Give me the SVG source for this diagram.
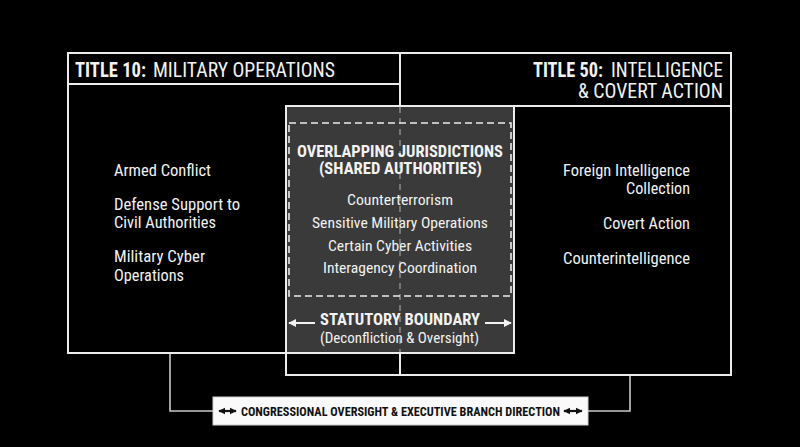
<svg xmlns="http://www.w3.org/2000/svg" width="800" height="447" viewBox="0 0 800 447">
<defs>
<style>
.frame{fill:none;stroke:#ececec;stroke-width:2}
.conn{fill:none;stroke:#c8c8c8;stroke-width:1.6}
.t{font-family:"Roboto Condensed","Liberation Sans Narrow","Liberation Sans",Arial,sans-serif;fill:#f2f2f2}
.b{font-weight:bold}
.hd{font-size:20px}
.it{font-size:16.5px}
.mi{font-size:15px}
.lb{font-size:12px;fill:#111;font-weight:bold}
</style>
<marker id="ah" viewBox="0 0 10 10" refX="9" refY="5" markerWidth="4" markerHeight="4" orient="auto-start-reverse" markerUnits="strokeWidth">
<path d="M0,0 L10,5 L0,10 z" fill="#f2f2f2"/>
</marker>
<marker id="ahk" viewBox="0 0 10 10" refX="9" refY="5" markerWidth="3.2" markerHeight="3.2" orient="auto-start-reverse" markerUnits="strokeWidth">
<path d="M0,0 L10,5 L0,10 z" fill="#111"/>
</marker>
</defs>
<rect width="800" height="447" fill="#000"/>

<g id="title10">
<path class="frame" d="M400,106 V53 H68 V353 H400 M68,84 H400"/>
<text class="t b hd" x="75" y="77" textLength="71" lengthAdjust="spacingAndGlyphs">TITLE 10:</text>
<text class="t hd" x="153" y="77" textLength="182" lengthAdjust="spacingAndGlyphs">MILITARY OPERATIONS</text>
<text class="t it" x="114" y="176" textLength="97" lengthAdjust="spacingAndGlyphs">Armed Conflict</text>
<text class="t it" x="114" y="210" textLength="126" lengthAdjust="spacingAndGlyphs">Defense Support to</text>
<text class="t it" x="114" y="228" textLength="102" lengthAdjust="spacingAndGlyphs">Civil Authorities</text>
<text class="t it" x="114" y="262" textLength="91" lengthAdjust="spacingAndGlyphs">Military Cyber</text>
<text class="t it" x="114" y="281" textLength="70" lengthAdjust="spacingAndGlyphs">Operations</text>
</g>

<g id="title50">
<path class="frame" d="M400,53 H731 V375 H286 V353 M514,106 H731 M400,353 V375"/>
<text class="t b hd" x="533" y="77" textLength="70" lengthAdjust="spacingAndGlyphs">TITLE 50:</text>
<text class="t hd" x="611" y="77" textLength="112" lengthAdjust="spacingAndGlyphs">INTELLIGENCE</text>
<text class="t hd" x="578" y="98" textLength="145" lengthAdjust="spacingAndGlyphs">&amp; COVERT ACTION</text>
<text class="t it" x="563" y="176" textLength="127" lengthAdjust="spacingAndGlyphs">Foreign Intelligence</text>
<text class="t it" x="626" y="194" textLength="64" lengthAdjust="spacingAndGlyphs">Collection</text>
<text class="t it" x="603" y="229" textLength="87" lengthAdjust="spacingAndGlyphs">Covert Action</text>
<text class="t it" x="563" y="264" textLength="127" lengthAdjust="spacingAndGlyphs">Counterintelligence</text>
</g>

<g id="overlap">
<rect x="286" y="106" width="228" height="247" fill="#3a3a3a" stroke="#ececec" stroke-width="2"/>
<line x1="400" y1="107" x2="400" y2="352" stroke="#8a8a8a" stroke-width="1.5" stroke-dasharray="6 5"/>
<rect x="289" y="123" width="222" height="173" fill="none" stroke="#ececec" stroke-width="1.6" stroke-dasharray="7 4"/>
<text class="t b" font-size="17" x="297" y="157" textLength="206" lengthAdjust="spacingAndGlyphs">OVERLAPPING JURISDICTIONS</text>
<text class="t b" font-size="17" x="319" y="174" textLength="163" lengthAdjust="spacingAndGlyphs">(SHARED AUTHORITIES)</text>
<text class="t mi" x="347" y="205" textLength="106" lengthAdjust="spacingAndGlyphs">Counterterrorism</text>
<text class="t mi" x="312" y="228" textLength="176" lengthAdjust="spacingAndGlyphs">Sensitive Military Operations</text>
<text class="t mi" x="328" y="251" textLength="144" lengthAdjust="spacingAndGlyphs">Certain Cyber Activities</text>
<text class="t mi" x="323" y="273" textLength="154" lengthAdjust="spacingAndGlyphs">Interagency Coordination</text>
<line x1="315" y1="323" x2="289" y2="323" stroke="#f2f2f2" stroke-width="2" marker-end="url(#ah)"/>
<line x1="485" y1="323" x2="511" y2="323" stroke="#f2f2f2" stroke-width="2" marker-end="url(#ah)"/>
<text class="t b" font-size="17" x="320" y="325" textLength="160" lengthAdjust="spacingAndGlyphs">STATUTORY BOUNDARY</text>
<text class="t" font-size="14.5" x="320" y="343" textLength="159" lengthAdjust="spacingAndGlyphs">(Deconfliction &amp; Oversight)</text>
</g>

<g id="connectors">
<path class="conn" d="M170,354 V411 H213"/>
<path class="conn" d="M588,411 H630 V376"/>
</g>

<g id="oversight">
<rect x="213" y="397" width="375" height="28" fill="#fafafa" stroke="#cfcfcf" stroke-width="1"/>
<line x1="219" y1="411" x2="236" y2="411" stroke="#111" stroke-width="2.2" marker-start="url(#ahk)" marker-end="url(#ahk)"/>
<text class="t lb" x="241" y="416" textLength="319" lengthAdjust="spacingAndGlyphs">CONGRESSIONAL OVERSIGHT &amp; EXECUTIVE BRANCH DIRECTION</text>
<line x1="564" y1="411" x2="582" y2="411" stroke="#111" stroke-width="2.2" marker-start="url(#ahk)" marker-end="url(#ahk)"/>
</g>
</svg>
